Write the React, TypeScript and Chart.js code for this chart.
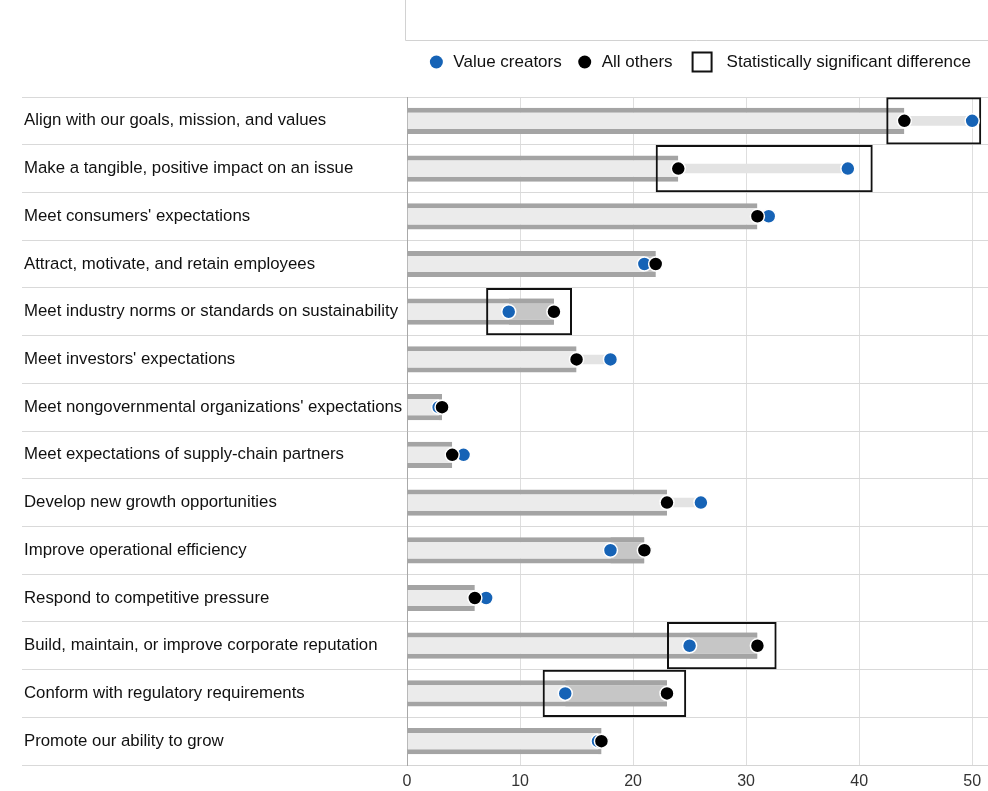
import { useEffect, useRef } from 'react';
import { Chart, registerables } from 'chart.js';

Chart.register(...registerables);

const categories = [
  'Align with our goals, mission, and values',
  'Make a tangible, positive impact on an issue',
  "Meet consumers' expectations",
  'Attract, motivate, and retain employees',
  'Meet industry norms or standards on sustainability',
  "Meet investors' expectations",
  "Meet nongovernmental organizations' expectations",
  'Meet expectations of supply-chain partners',
  'Develop new growth opportunities',
  'Improve operational efficiency',
  'Respond to competitive pressure',
  'Build, maintain, or improve corporate reputation',
  'Conform with regulatory requirements',
  'Promote our ability to grow',
];

const valueCreators = [50, 39, 32, 21, 9, 18, 2.8, 5, 26, 18, 7, 25, 14, 16.9];
const allOthers = [44, 24, 31, 22, 13, 15, 3.1, 4, 23, 21, 6, 31, 23, 17.2];

// statistically significant difference boxes (start / end along the value axis)
const boxStart = [42.4, 22, null, null, 7, null, null, null, null, null, null, 23, 12, null];
const boxEnd = [50.8, 41.2, null, null, 14.6, null, null, null, null, null, null, 32.7, 24.7, null];

const xTicks = [0, 10, 20, 30, 40, 50];
const legendLabels = ['Value creators', 'All others', 'Statistically significant difference'];

const BLUE = '#1663b6';
const FONT = '"Liberation Sans", Arial, Helvetica, sans-serif';
const W = 988;
const H = 791;

const decorPlugin = {
  id: 'decor',
  afterDraw(chart: any) {
    const ctx: CanvasRenderingContext2D = chart.ctx;
    const area = chart.chartArea;
    ctx.save();
    // header frame lines
    ctx.strokeStyle = '#d2d2d2';
    ctx.lineWidth = 1;
    ctx.beginPath();
    ctx.moveTo(Math.round(area.left) - 1.5, 0);
    ctx.lineTo(Math.round(area.left) - 1.5, 40.5);
    ctx.lineTo(chart.width, 40.5);
    ctx.stroke();

    // legend
    ctx.font = `17px ${FONT}`;
    ctx.textBaseline = 'middle';
    ctx.textAlign = 'left';
    ctx.fillStyle = '#111111';
    const y = 62;
    const w1 = ctx.measureText(legendLabels[0]).width;
    const w2 = ctx.measureText(legendLabels[1]).width;
    const w3 = ctx.measureText(legendLabels[2]).width;
    const end3 = chart.width - 17;
    const start3 = end3 - w3;
    const sqRight = start3 - 15;
    const sqLeft = sqRight - 19;
    const end2 = sqLeft - 20;
    const start2 = end2 - w2;
    const dot2 = start2 - 17;
    const end1 = dot2 - 23;
    const start1 = end1 - w1;
    const dot1 = start1 - 17;

    ctx.fillText(legendLabels[0], start1, y);
    ctx.fillText(legendLabels[1], start2, y);
    ctx.fillText(legendLabels[2], start3, y);

    ctx.fillStyle = BLUE;
    ctx.beginPath();
    ctx.arc(dot1, y, 6.5, 0, Math.PI * 2);
    ctx.fill();
    ctx.fillStyle = '#000';
    ctx.beginPath();
    ctx.arc(dot2, y, 6.5, 0, Math.PI * 2);
    ctx.fill();
    ctx.strokeStyle = '#111';
    ctx.lineWidth = 2;
    ctx.strokeRect(sqLeft, y - 9.5, 19, 19);
    ctx.restore();
  },
};

export default function App() {
  const canvasRef = useRef<HTMLCanvasElement | null>(null);

  useEffect(() => {
    document.body.style.margin = '0';
    document.body.style.overflow = 'hidden';
    const canvas = canvasRef.current;
    if (!canvas) return;

    const midSegments = valueCreators.map((v, i) => (v < allOthers[i] ? [v, allOthers[i]] : null));
    const connectors = valueCreators.map((v, i) => (v > allOthers[i] ? [allOthers[i], v] : null));
    const boxes = boxStart.map((s, i) => (s !== null && boxEnd[i] !== null ? [s, boxEnd[i]] : null));

    const chart = new Chart(canvas, {
      type: 'bar',
      data: {
        labels: categories,
        datasets: [
          {
            type: 'line',
            label: 'All others',
            data: allOthers,
            indexAxis: 'y',
            showLine: false,
            pointRadius: 7,
            pointBorderWidth: 1.5,
            pointBorderColor: '#ffffff',
            pointBackgroundColor: '#000000',
            borderColor: '#000000',
            backgroundColor: '#000000',
            order: 0,
            clip: false,
          } as any,
          {
            type: 'line',
            label: 'Value creators',
            data: valueCreators,
            indexAxis: 'y',
            showLine: false,
            pointRadius: 7,
            pointBorderWidth: 1.5,
            pointBorderColor: '#ffffff',
            pointBackgroundColor: BLUE,
            borderColor: BLUE,
            backgroundColor: BLUE,
            order: 1,
            clip: false,
          } as any,
          {
            label: 'Statistically significant difference',
            data: boxes as any,
            backgroundColor: 'rgba(0,0,0,0)',
            borderColor: '#111111',
            borderWidth: 2,
            borderSkipped: false,
            grouped: false,
            barPercentage: 0.99,
            categoryPercentage: 1,
            order: 2,
            clip: false,
          } as any,
          {
            label: 'gap-mid',
            data: midSegments as any,
            backgroundColor: '#c6c6c6',
            borderColor: '#a4a4a4',
            borderWidth: { top: 5, bottom: 5, left: 0, right: 0 },
            borderSkipped: false,
            grouped: false,
            barPercentage: 0.55,
            categoryPercentage: 1,
            order: 3,
          } as any,
          {
            label: 'gap-connector',
            data: connectors as any,
            backgroundColor: '#e3e3e3',
            borderWidth: 0,
            grouped: false,
            barPercentage: 0.2,
            categoryPercentage: 1,
            order: 4,
          } as any,
          {
            label: 'base',
            data: allOthers,
            backgroundColor: '#ebebeb',
            borderColor: '#a4a4a4',
            borderWidth: { top: 5, bottom: 5, left: 0, right: 0 },
            borderSkipped: false,
            grouped: false,
            barPercentage: 0.55,
            categoryPercentage: 1,
            order: 5,
          } as any,
        ],
      },
      options: {
        indexAxis: 'y',
        animation: false,
        responsive: false,
        maintainAspectRatio: false,
        devicePixelRatio: 1,
        events: [],
        layout: { autoPadding: false, padding: { left: 24, right: 0, top: 97, bottom: 0 } },
        plugins: {
          legend: { display: false },
          tooltip: { enabled: false },
          title: { display: false },
        },
        scales: {
          x: {
            type: 'linear',
            position: 'bottom',
            min: 0,
            max: 51.4,
            afterBuildTicks: (scale: any) => {
              scale.ticks = xTicks.map((v) => ({ value: v }));
            },
            afterFit: (scale: any) => {
              scale.height = 26;
              scale.paddingLeft = 0;
              scale.paddingRight = 0;
            },
            grid: { color: '#dedede', drawTicks: false, lineWidth: 1 },
            border: { display: true, color: '#d4d4d4' },
            ticks: {
              padding: 7,
              color: '#333333',
              font: { family: FONT, size: 16 },
              callback: (v: any) => String(v),
            },
          },
          y: {
            type: 'category',
            offset: true,
            afterFit: (scale: any) => {
              scale.width = 383;
              scale.paddingTop = 0;
              scale.paddingBottom = 0;
            },
            grid: {
              offset: true,
              color: '#d9d9d9',
              tickColor: '#d9d9d9',
              tickLength: 385,
              drawTicks: true,
            },
            border: { display: true, color: '#a9a9a9' },
            ticks: {
              crossAlign: 'far',
              color: '#111111',
              font: { family: FONT, size: 16.8 },
              autoSkip: false,
            },
          },
        },
      } as any,
      plugins: [decorPlugin],
    });

    return () => chart.destroy();
  }, []);

  return (
    <div style={{ width: W, height: H, position: 'relative', background: '#ffffff', overflow: 'hidden' }}>
      <canvas ref={canvasRef} width={W} height={H} style={{ width: W, height: H, display: 'block' }} />
    </div>
  );
}
